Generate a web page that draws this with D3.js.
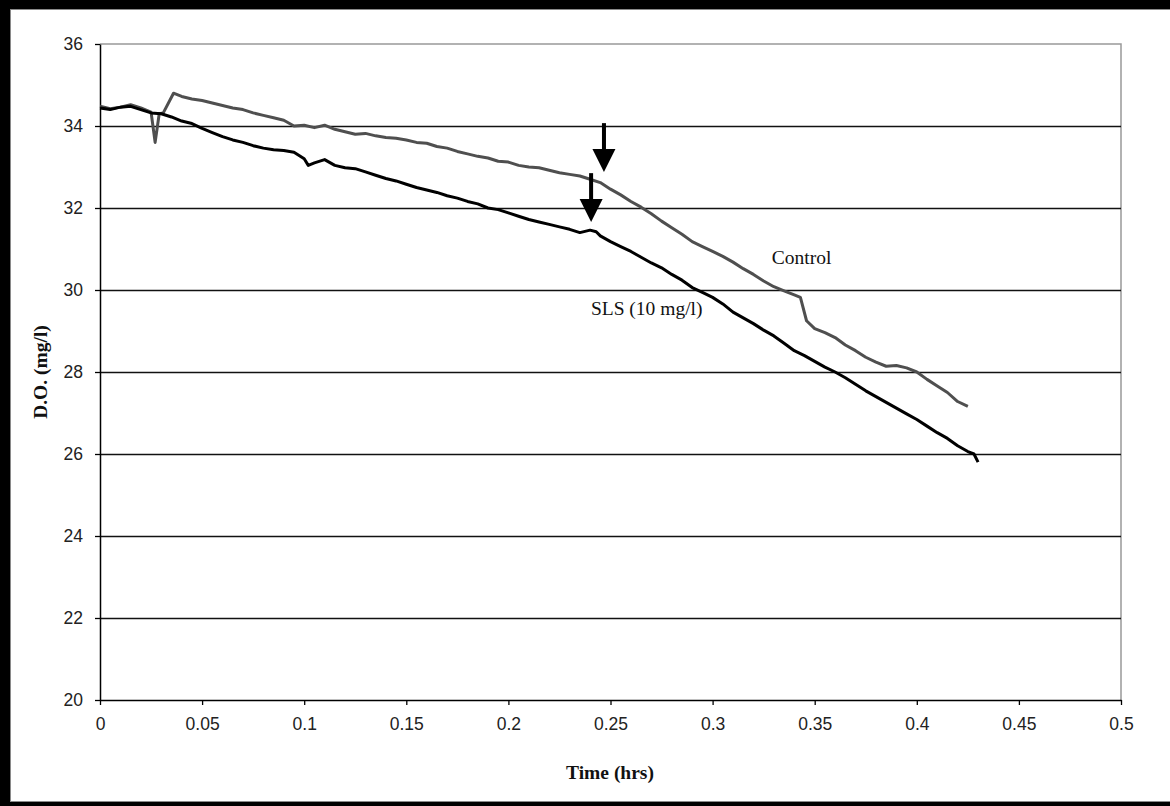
<!DOCTYPE html>
<html>
<head>
<meta charset="utf-8">
<script src="https://cdn.jsdelivr.net/npm/d3@7"></script>
<style>
  html, body { margin: 0; padding: 0; background: #fff; }
  svg { display: block; }
</style>
</head>
<body>
<svg id="chart" width="1170" height="806"></svg>
<script>
// ---------------- data ----------------
const xTickValues = [0, 0.05, 0.1, 0.15, 0.2, 0.25, 0.3, 0.35, 0.4, 0.45, 0.5];
const xTickLabels = ["0", "0.05", "0.1", "0.15", "0.2", "0.25", "0.3", "0.35", "0.4", "0.45", "0.5"];
const yTickValues = [20, 22, 24, 26, 28, 30, 32, 34, 36];
const yTickLabels = ["20", "22", "24", "26", "28", "30", "32", "34", "36"];
const gridValues = [22, 24, 26, 28, 30, 32, 34];

const controlTime = [0,0.005,0.01,0.015,0.02,0.025,0.027,0.029,0.031,0.036,
  0.04,0.045,0.05,0.055,0.06,0.065,0.07,0.075,0.08,0.085,0.09,0.095,0.1,0.105,0.11,0.115,0.12,0.125,0.13,0.135,
  0.14,0.145,0.15,0.155,0.16,0.165,0.17,0.175,0.18,0.185,0.19,0.195,0.2,0.205,0.21,0.215,0.22,0.225,0.23,0.235,
  0.24,0.245,0.25,0.255,0.26,0.265,0.27,0.275,0.28,0.285,0.29,0.295,0.3,0.305,0.31,0.315,0.32,0.325,0.33,0.335,
  0.34,0.343,0.346,0.35,0.355,0.36,0.365,0.37,0.375,0.38,0.385,0.39,0.395,0.4,0.405,0.41,0.415,0.42,0.425];
const controlDO = [34.48,34.42,34.46,34.52,34.44,34.34,33.6,34.3,34.32,34.8,
  34.72,34.66,34.62,34.56,34.5,34.44,34.4,34.32,34.26,34.2,34.14,34.0,34.02,33.96,34.02,33.92,33.86,33.8,33.82,33.76,
  33.72,33.7,33.66,33.6,33.58,33.5,33.46,33.38,33.32,33.26,33.22,33.14,33.12,33.04,33.0,32.98,32.92,32.86,32.82,32.78,
  32.7,32.62,32.46,32.32,32.16,32.02,31.86,31.68,31.52,31.36,31.18,31.06,30.94,30.82,30.68,30.52,30.38,30.22,30.08,29.98,
  29.88,29.82,29.25,29.06,28.96,28.84,28.66,28.52,28.36,28.24,28.14,28.16,28.1,28.0,27.82,27.66,27.5,27.28,27.16];

const slsTime = [0,0.005,0.01,0.015,0.02,0.025,0.03,0.035,0.04,0.045,0.05,0.055,0.06,0.065,0.07,0.075,0.08,0.085,0.09,0.095,0.1,
  0.102,
  0.105,0.11,0.115,0.12,0.125,0.13,0.135,0.14,0.145,0.15,0.155,0.16,0.165,0.17,0.175,0.18,0.185,0.19,0.195,0.2,0.205,0.21,0.215,0.22,0.225,0.23,0.235,0.24,
  0.243,
  0.245,0.25,0.255,0.26,0.265,0.27,0.275,0.28,0.285,0.29,0.295,0.3,0.305,0.31,0.315,0.32,0.325,0.33,0.335,0.34,0.345,0.35,0.355,0.36,0.365,0.37,0.375,0.38,0.385,0.39,0.395,0.4,0.405,0.41,0.415,0.42,0.425,
  0.428,0.43];
const slsDO = [34.44,34.40,34.46,34.48,34.40,34.32,34.30,34.22,34.12,34.06,33.94,33.84,33.74,33.66,33.60,33.52,33.46,33.42,33.40,33.36,33.20,
  33.04,
  33.10,33.18,33.04,32.98,32.96,32.88,32.80,32.72,32.66,32.58,32.50,32.44,32.38,32.30,32.24,32.16,32.10,32.00,31.96,31.88,31.80,31.72,31.66,31.60,31.54,31.48,31.40,31.46,
  31.42,
  31.32,31.18,31.06,30.94,30.80,30.66,30.54,30.38,30.24,30.06,29.94,29.82,29.66,29.46,29.32,29.18,29.02,28.88,28.70,28.52,28.40,28.26,28.12,28.00,27.86,27.70,27.54,27.40,27.26,27.12,26.98,26.84,26.68,26.52,26.38,26.20,26.06,
  26.0,25.80];

// annotation arrows (time, tail value, tip value)
const arrowTime = [0.2468, 0.2405];
const arrowTail = [34.07, 32.85];
const arrowTip = [32.88, 31.66];

// series labels
const labelText = ["Control", "SLS (10 mg/l)"];
const labelTime = [0.329, 0.2404];
const labelDO = [30.63, 29.39];

const xTitle = "Time (hrs)";
const yTitle = "D.O. (mg/l)";

// ---------------- drawing ----------------
const svg = d3.select("#chart");
const W = 1170, H = 806;

// outer frame
svg.append("rect").attr("x", 0).attr("y", 0).attr("width", W).attr("height", H).attr("fill", "#000");
svg.append("rect").attr("x", 10.5).attr("y", 9.5).attr("width", W).attr("height", 792)
  .attr("fill", "#fff").attr("stroke", "#8a8a8a").attr("stroke-width", 1);

const x = d3.scaleLinear().domain([0, 0.5]).range([100, 1121]);
const y = d3.scaleLinear().domain([20, 36]).range([700, 44]);

// plot border (top / right in gray)
svg.append("path")
  .attr("d", `M${x(0)},${y(36)}H${x(0.5)}V${y(20)}`)
  .attr("fill", "none").attr("stroke", "#999").attr("stroke-width", 1.5);

// gridlines
svg.append("g").selectAll("line").data(gridValues).join("line")
  .attr("x1", x(0)).attr("x2", x(0.5))
  .attr("y1", d => Math.round(y(d)) + 0.5).attr("y2", d => Math.round(y(d)) + 0.5)
  .attr("stroke", "#111").attr("stroke-width", 1.3);

// axes
const tickFont = "'Liberation Sans', Arial, sans-serif";
const xAxis = d3.axisBottom(x).tickValues(xTickValues)
  .tickFormat((d, i) => xTickLabels[i]).tickSize(5).tickPadding(13).tickSizeOuter(0);
const gx = svg.append("g").attr("transform", `translate(0,${y(20)})`).call(xAxis);
const yAxis = d3.axisLeft(y).tickValues(yTickValues)
  .tickFormat((d, i) => yTickLabels[i]).tickSize(5).tickPadding(12).tickSizeOuter(0);
const gy = svg.append("g").attr("transform", `translate(${x(0)},0)`).call(yAxis);
[gx, gy].forEach(g => {
  g.selectAll("path.domain").attr("stroke", "#000").attr("stroke-width", 1.5);
  g.selectAll(".tick line").attr("stroke", "#000").attr("stroke-width", 1.3);
  g.selectAll(".tick text").attr("font-family", tickFont).attr("font-size", 17.5).attr("fill", "#222");
});

// lines
const line = d3.line().x(d => x(d[0])).y(d => y(d[1]));
const controlData = controlTime.map((t, i) => [t, controlDO[i]]);
const slsData = slsTime.map((t, i) => [t, slsDO[i]]);

svg.append("path").datum(controlData).attr("d", line)
  .attr("fill", "none").attr("stroke", "#4f4f4f").attr("stroke-width", 3).attr("stroke-linejoin", "round");
svg.append("path").datum(slsData).attr("d", line)
  .attr("fill", "none").attr("stroke", "#000").attr("stroke-width", 3).attr("stroke-linejoin", "round");

// arrows
const headH = 23, headW = 23, shaftW = 4;
arrowTime.forEach((t, i) => {
  const ax = x(t), y0 = y(arrowTail[i]), y1 = y(arrowTip[i]);
  svg.append("rect").attr("x", ax - shaftW / 2).attr("y", y0).attr("width", shaftW).attr("height", y1 - y0 - headH + 2)
    .attr("fill", "#000");
  svg.append("path")
    .attr("d", `M${ax - headW / 2},${y1 - headH}L${ax + headW / 2},${y1 - headH}L${ax},${y1}Z`)
    .attr("fill", "#000");
});

// series labels
const serif = "'Times New Roman', 'Liberation Serif', serif";
labelText.forEach((s, i) => {
  svg.append("text").attr("x", x(labelTime[i])).attr("y", y(labelDO[i]))
    .attr("font-family", serif).attr("font-size", 19.5).attr("fill", "#111").text(s);
});

// axis titles
svg.append("text").attr("x", 610).attr("y", 779).attr("text-anchor", "middle")
  .attr("font-family", serif).attr("font-weight", "bold").attr("font-size", 19.5).attr("fill", "#111")
  .text(xTitle);
svg.append("text").attr("transform", "translate(47,372) rotate(-90)").attr("text-anchor", "middle")
  .attr("font-family", serif).attr("font-weight", "bold").attr("font-size", 19.5).attr("fill", "#111")
  .text(yTitle);
</script>
</body>
</html>
